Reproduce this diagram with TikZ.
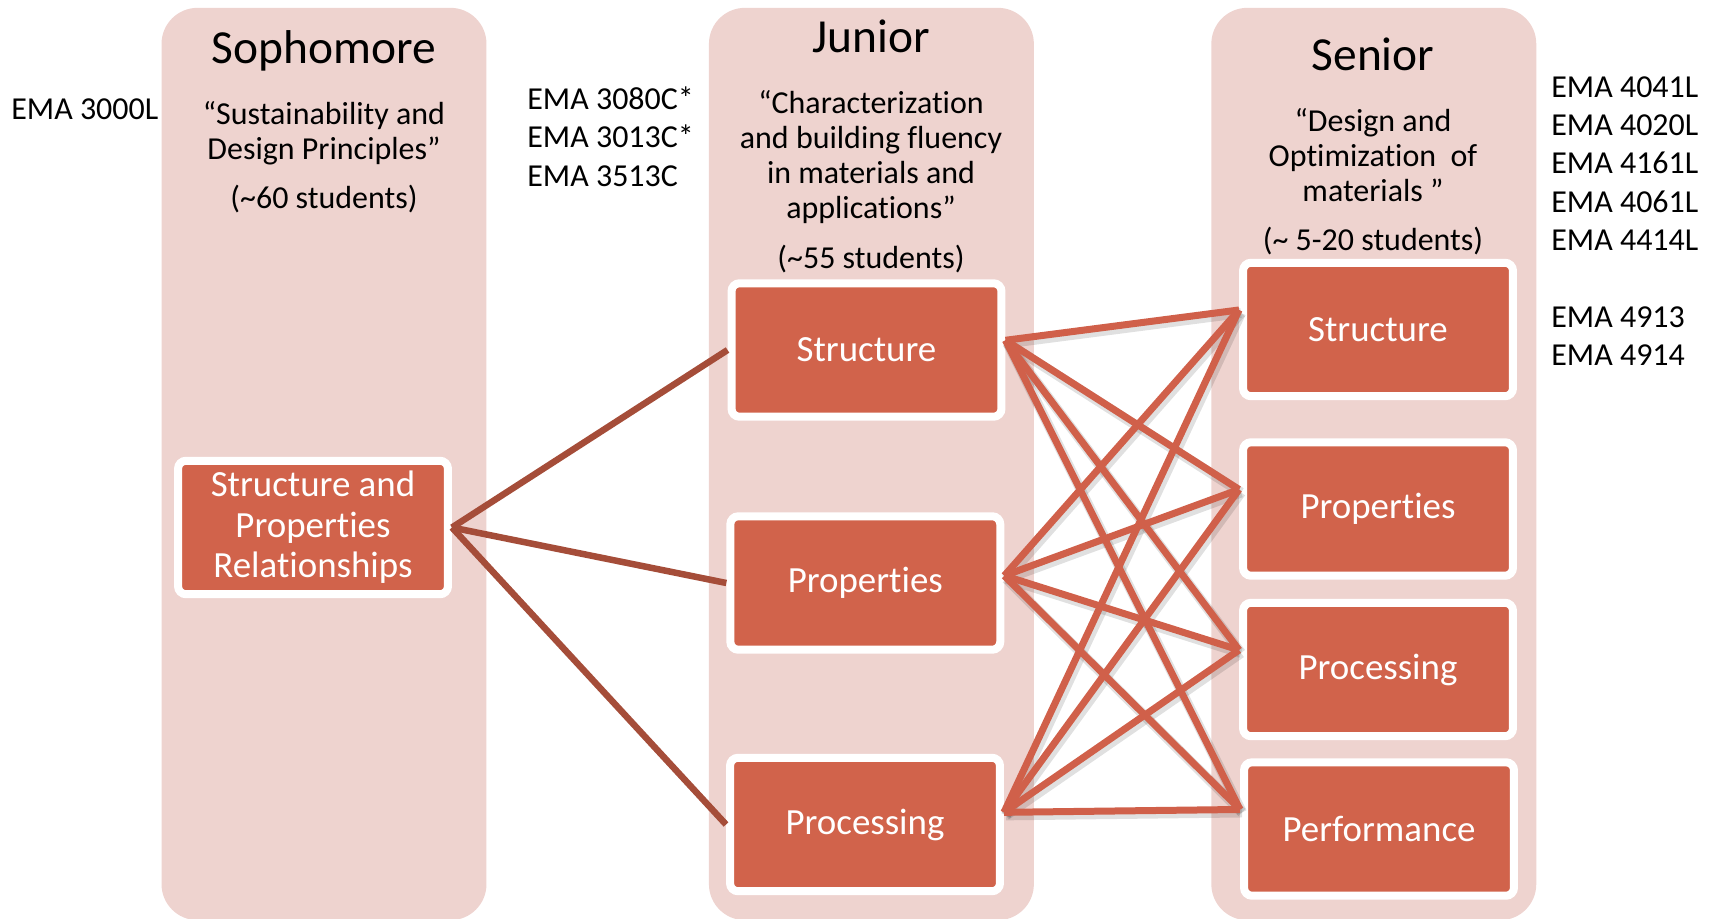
\documentclass[tikz,border=0pt]{standalone}
\usepackage{fontspec}
\setmainfont{Carlito}[RawFeature={-liga;-clig;-calt;-dlig}]
\usetikzlibrary{positioning}
\definecolor{panelpink}{HTML}{EED3CF}
\definecolor{boxred}{HTML}{D1634B}
\definecolor{linkbrown}{HTML}{A54D39}
\definecolor{linkred}{HTML}{D0604A}

\begin{document}
\begin{tikzpicture}[x=0.02cm,y=-0.02cm,
  year/.style={fill=panelpink,rounded corners=0.72cm,minimum width=6.5cm,
    minimum height=18.25cm,inner sep=0pt},
  yeartitle/.style={anchor=base,font=\fontsize{27}{30}\selectfont},
  motto/.style={anchor=north,align=center,inner sep=0pt,
    font=\fontsize{18.2}{19.9}\selectfont},
  headcount/.style={anchor=base,inner sep=0pt,font=\fontsize{18.2}{19.9}\selectfont},
  course/.style={anchor=base west,inner sep=0pt,font=\fontsize{18.2}{19.9}\selectfont},
  topic/.style={draw=white,line width=0.16cm,fill=boxred,rounded corners=0.16cm,
    minimum width=5.4cm,minimum height=2.67cm,text=white,align=center,
    font=\fontsize{21}{23}\selectfont},
  soph link/.style={draw=linkbrown,line width=0.13cm},
  link/.style={draw=linkred,line width=0.14cm},
  link shadow/.style={draw=black,opacity=0.12,line width=0.2cm}]

  \useasboundingbox (0,0) rectangle (1711,919);

  % year columns
  \node[year] (soph) at (324,464) {};
  \node[year] (jun) at (871.4,464) {};
  \node[year] (sen) at (1373.8,464) {};

  \node[yeartitle] (sophtitle) at (324,64) {Sophomore};
  \node[yeartitle] (juntitle) at (871,52.7) {Junior};
  \node[yeartitle] (sentitle) at (1373,70.7) {Senior};

  \node[motto] (sophmotto) at (324,101) {“Sustainability and\\Design Principles”};
  \node[motto] (junmotto) at (871,90) {“Characterization\\and building fluency\\in materials and\\applications”};
  \node[motto] (senmotto) at (1373,108) {“Design and\\Optimization\ \ of\\materials ”};

  \node[headcount] (sophcount) at (324,208.5) {(\textasciitilde 60 students)};
  \node[headcount] (juncount) at (871,268.7) {(\textasciitilde 55 students)};
  \node[headcount] (sencount) at (1373,250.5) {(\textasciitilde\ 5-20 students)};

  % course numbers
  \node[course] (c3000) at (11,120) {EMA 3000L};
  \foreach \c [count=\i] in {3080C*,3013C*,3513C}
    \node[course] (jc\i) at (527,{109.5+38.3*(\i-1)}) {EMA \c};
  \foreach \c [count=\i] in {4041L,4020L,4161L,4061L,4414L}
    \node[course] (sc\i) at (1551,{97.2+38.3*(\i-1)}) {EMA \c};
  \node[course] (c4913) at (1551,327.2) {EMA 4913};
  \node[course] (c4914) at (1551,365.5) {EMA 4914};

  % topic boxes
  \node[topic] (spr) at (313,527.5) {Structure and\\Properties\\Relationships};
  \node[topic] (jstr) at (866.5,350) {Structure};
  \node[topic] (jprop) at (865.3,583) {Properties};
  \node[topic] (jproc) at (865,824.5) {Processing};
  \node[topic] (sstr) at (1378,329.5) {Structure};
  \node[topic] (sprop) at (1378,509) {Properties};
  \node[topic] (sproc) at (1378,669.5) {Processing};
  \node[topic] (sperf) at (1379,829) {Performance};

  \path[soph link] (spr.east) edge (jstr.west)
                              edge (jprop.west)
                              edge (jproc.west);

  \foreach \j/\a in {jstr/4,jprop/3,jproc/5}
    \foreach \s in {sstr,sprop,sproc,sperf}
      \draw[link shadow] ([shift={(2,3)}]\j.\a) -- ([shift={(2,3)}]\s.172);
  \foreach \j/\a in {jstr/4,jprop/3,jproc/5}
    \foreach \s in {sstr,sprop,sproc,sperf}
      \draw[link] (\j.\a) -- (\s.172);
\end{tikzpicture}
\end{document}
